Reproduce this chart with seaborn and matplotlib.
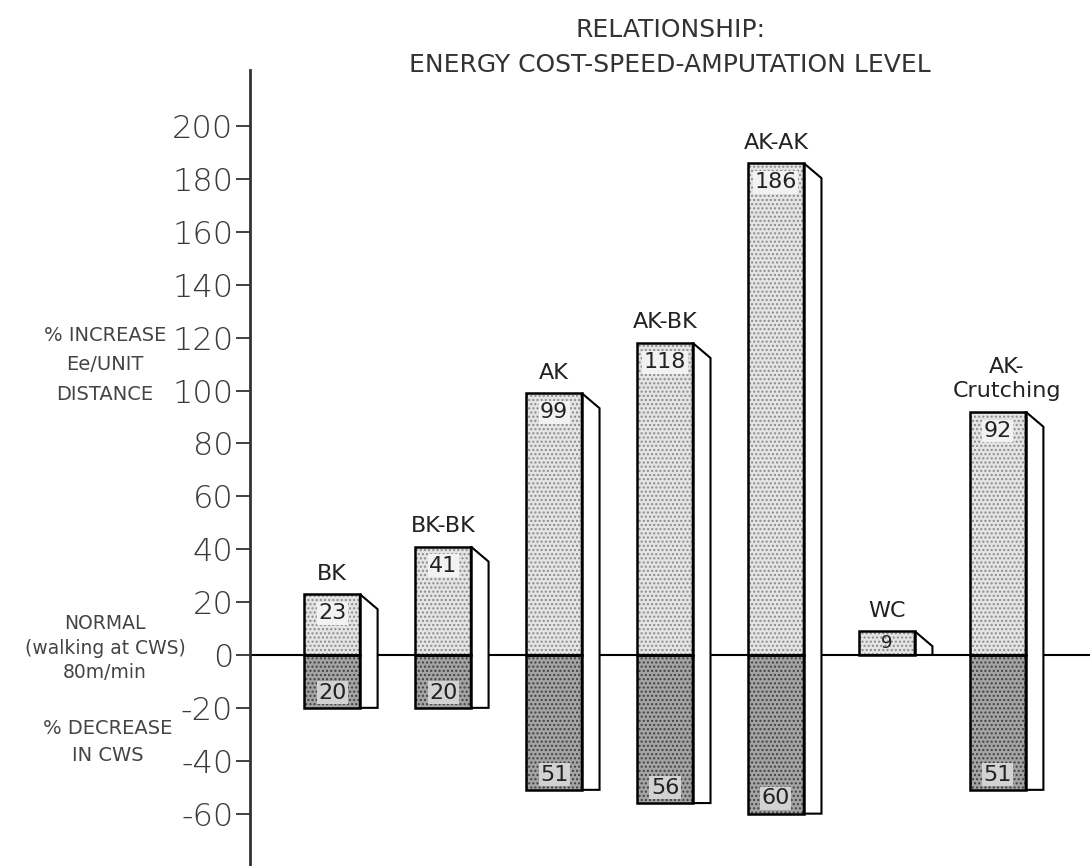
import numpy as np
import pandas as pd
import matplotlib
matplotlib.use("Agg")
import matplotlib.pyplot as plt
from matplotlib.patches import Rectangle, Polygon
import seaborn as sns

# data
categories = ["BK", "BK-BK", "AK", "AK-BK", "AK-AK", "WC", "AK-Crutching"]
cat_labels = ["BK", "BK-BK", "AK", "AK-BK", "AK-AK", "WC", "AK-\nCrutching"]
energy_increase = [23, 41, 99, 118, 186, 9, 92]      # % increase Ee/unit distance
speed_decrease = [20, 20, 51, 56, 60, 0, 51]          # % decrease in CWS (0 = no bar)
yticks = list(range(-60, 201, 20))

sns.set_style("white")
plt.rcParams["font.family"] = ["DejaVu Sans"]

fig = plt.figure(figsize=(10.9, 8.66), dpi=100)
ax = fig.add_axes([250 / 1090, 0.0, 840 / 1090, 1 - 70 / 866])

df = pd.DataFrame({"cat": categories, "up": energy_increase,
                   "down": [-v for v in speed_decrease]})

sns.barplot(data=df, x="cat", y="up", order=categories, width=0.5,
            color="#e4e4e4", edgecolor="#8a8a8a", linewidth=0, hatch="....",
            saturation=1, ax=ax)
sns.barplot(data=df, x="cat", y="down", order=categories, width=0.5,
            color="#a4a4a4", edgecolor="#404040", linewidth=0, hatch="....",
            saturation=1, ax=ax)

n = len(categories)
up_bars = ax.patches[:n]
down_bars = ax.patches[n:2 * n]

dx = 0.16   # depth of the side face (data units)
dy = 5.7    # slant of the side face

for i in range(n):
    pu = up_bars[i]
    pd_ = down_bars[i]
    x0 = pu.get_x()
    w = pu.get_width()
    top = pu.get_height()
    bot = pd_.get_height() if speed_decrease[i] else 0
    if not speed_decrease[i]:
        pd_.set_visible(False)
    # side face
    side = Polygon([(x0 + w, top), (x0 + w + dx, top - dy),
                    (x0 + w + dx, bot), (x0 + w, bot)],
                   closed=True, facecolor="white", edgecolor="black",
                   linewidth=1.5, zorder=3)
    ax.add_patch(side)
    # outlines of front faces
    ax.add_patch(Rectangle((x0, 0), w, top, fill=False, edgecolor="black",
                           linewidth=1.8, zorder=4))
    if speed_decrease[i]:
        ax.add_patch(Rectangle((x0, 0), w, bot, fill=False, edgecolor="black",
                               linewidth=1.8, zorder=4))
    cx = x0 + w / 2
    # category name above bar
    if "\n" in cat_labels[i]:
        ax.text(cx + 0.08, top + 4, cat_labels[i], ha="center", va="bottom",
                fontsize=16, color="#222", linespacing=1.25, zorder=5)
    else:
        ax.text(cx, top + 4, cat_labels[i], ha="center", va="bottom",
                fontsize=16, color="#222", zorder=5)
    # values
    if top > 15:
        ax.text(cx, top - 3.5, str(energy_increase[i]), ha="center", va="top",
                fontsize=16, color="#222", zorder=5,
                bbox=dict(facecolor="#f2f2f2", edgecolor="none", pad=1))
    else:
        ax.text(cx, top / 2, str(energy_increase[i]), ha="center", va="center",
                fontsize=13, color="#222", zorder=5)
    if speed_decrease[i]:
        ax.text(cx, bot + 2, str(speed_decrease[i]), ha="center", va="bottom",
                fontsize=16, color="#222", zorder=5,
                bbox=dict(facecolor="#d2d2d2", edgecolor="none", pad=1))

ax.axhline(0, color="black", linewidth=1.5, zorder=2)

ax.set_xlim(-0.74, 6.83)
ax.set_ylim(-79.8, 221.2)
ax.set_yticks(yticks)
ax.set_yticklabels([str(t) for t in yticks], fontsize=23, color="#3a3a3a",
                   fontweight="light")
ax.set_xticks([])
ax.set_xlabel("")
ax.set_ylabel("")
ax.tick_params(axis="y", direction="out", length=10, width=1.3,
               color="#333", pad=2, left=True)
for s in ["top", "right", "bottom"]:
    ax.spines[s].set_visible(False)
ax.spines["left"].set_linewidth(2)
ax.spines["left"].set_color("#333")

# side annotations
fig.text(105 / 1090, 1 - 365 / 866, "% INCREASE\nEe/UNIT\nDISTANCE",
         ha="center", va="center", fontsize=14, color="#444", linespacing=1.7)
fig.text(105 / 1090, 1 - 648 / 866, "NORMAL\n(walking at CWS)\n80m/min",
         ha="center", va="center", fontsize=13.5, color="#444", linespacing=1.35)
fig.text(108 / 1090, 1 - 742 / 866, "% DECREASE\nIN CWS",
         ha="center", va="center", fontsize=14, color="#444", linespacing=1.5)

# title
fig.text(670 / 1090, 1 - 30 / 866, "RELATIONSHIP:", ha="center", va="center",
         fontsize=18, color="#333")
fig.text(670 / 1090, 1 - 65 / 866, "ENERGY COST-SPEED-AMPUTATION LEVEL",
         ha="center", va="center", fontsize=18, color="#333")

fig.savefig("out.png", dpi=100, facecolor="white")
